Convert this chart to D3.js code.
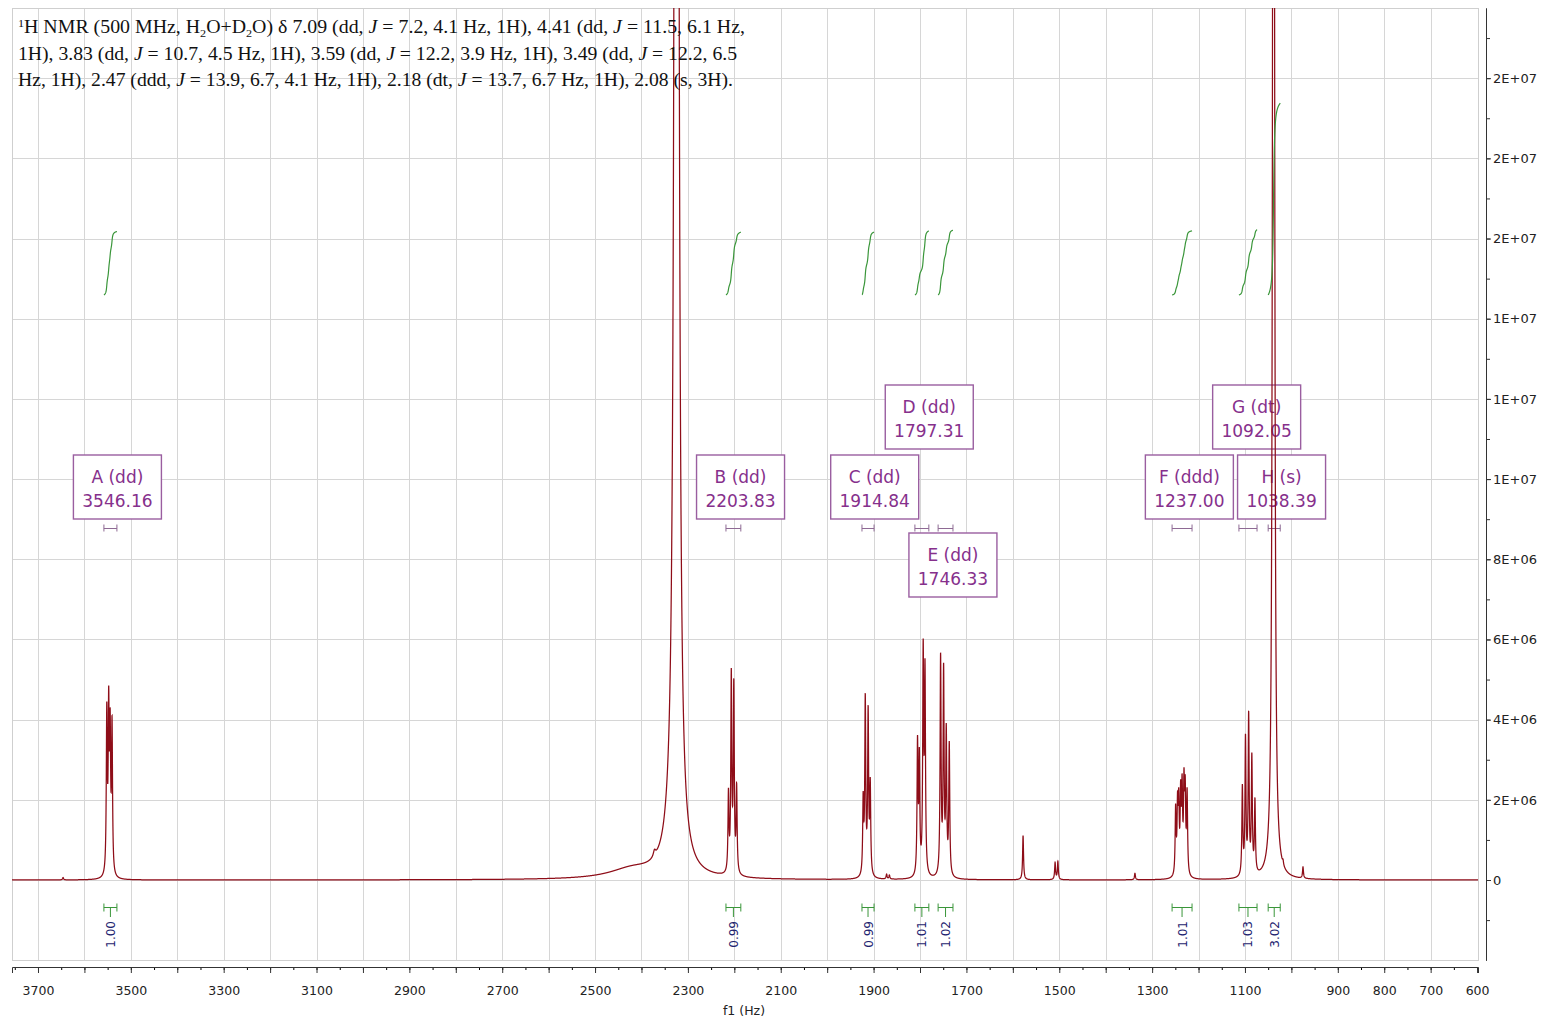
<!DOCTYPE html>
<html>
<head>
<meta charset="utf-8">
<script src="https://cdn.jsdelivr.net/npm/d3@7/dist/d3.min.js"></script>
<style>
  body { margin: 0; background: #fff; }
</style>
</head>
<body>
<div class="vis-holder"></div>
<script>
// ---------- values ----------

// multiplet annotations
var mLabels  = ["A", "B", "C", "D", "E", "F", "G", "H"];
var mTypes   = ["dd", "dd", "dd", "dd", "dd", "ddd", "dt", "s"];
var mCenters = [3546.16, 2203.83, 1914.84, 1797.31, 1746.33, 1237.00, 1092.05, 1038.39];

// integration ranges (Hz, left edge / right edge) and integral values
var rangeFrom = [3558, 2218, 1925, 1811, 1761, 1257, 1113, 1050];
var rangeTo   = [3530, 2186, 1899, 1781, 1729, 1214, 1074, 1024];
var integrals = [1.00, 0.99, 0.99, 1.01, 1.02, 1.01, 1.03, 3.02];

// resolved lines of every multiplet (Hz) and the heights they reach
var linesA   = [3551.81, 3547.71, 3544.61, 3540.51];
var heightsA = [4.45e6, 4.85e6, 4.3e6, 4.1e6];
var linesB   = [2212.63, 2206.53, 2201.13, 2195.03];
var heightsB = [2.2e6, 5.2e6, 4.95e6, 2.35e6];
var linesC   = [1922.44, 1917.94, 1911.74, 1907.24];
var heightsC = [2.2e6, 4.65e6, 4.35e6, 2.55e6];
var linesD   = [1805.36, 1801.46, 1793.16, 1789.26];
var heightsD = [3.6e6, 3.3e6, 6.0e6, 5.5e6];
var linesE   = [1755.68, 1749.18, 1743.48, 1736.98];
var heightsE = [5.65e6, 5.4e6, 3.9e6, 3.45e6];
var linesF   = [1249.35, 1245.25, 1242.65, 1238.55, 1235.45, 1231.35, 1228.75, 1224.65];
var heightsF = [1.9e6, 2.2e6, 2.3e6, 2.5e6, 2.65e6, 2.8e6, 2.6e6, 2.3e6];
var linesG   = [1105.6, 1098.9, 1092.05, 1085.2, 1078.5];
var heightsG = [2.35e6, 3.6e6, 4.15e6, 3.1e6, 1.95e6];
var linesH   = [1038.39];
var heightsH = [60e6];

// small impurity peaks
var smallPos     = [3646, 1872, 1866, 1578, 1509, 1503, 1337, 1018, 975];
var smallHeights = [0.06e6, 0.12e6, 0.1e6, 1.1e6, 0.42e6, 0.45e6, 0.16e6, 0.1e6, 0.28e6];

// water signal (main line, broad foot, low-field hump, small shoulder)
var waterPos     = [2324.5, 2335, 2420, 2372];
var waterHeights = [102e6, 0.4e6, 0.25e6, 0.15e6];

// axis ticks
var xTickLabels = [3700, 3500, 3300, 3100, 2900, 2700, 2500, 2300, 2100, 1900, 1700, 1500, 1300, 1100, 900, 800, 700, 600];
var yTickLabels = [0, 2e6, 4e6, 6e6, 8e6, 10e6, 12e6, 14e6, 16e6, 18e6, 20e6];

// caption above the spectrum
var titleLines = [
  [["1", "sup"], ["H NMR (500 MHz, H", ""], ["2", "sub"], ["O+D", ""], ["2", "sub"], ["O) \u03b4 7.09 (dd, ", ""], ["J", "i"],
   [" = 7.2, 4.1 Hz, 1H), 4.41 (dd, ", ""], ["J", "i"], [" = 11.5, 6.1 Hz,", ""]],
  [["1H), 3.83 (dd, ", ""], ["J", "i"], [" = 10.7, 4.5 Hz, 1H), 3.59 (dd, ", ""], ["J", "i"],
   [" = 12.2, 3.9 Hz, 1H), 3.49 (dd, ", ""], ["J", "i"], [" = 12.2, 6.5", ""]],
  [["Hz, 1H), 2.47 (ddd, ", ""], ["J", "i"], [" = 13.9, 6.7, 4.1 Hz, 1H), 2.18 (dt, ", ""], ["J", "i"],
   [" = 13.7, 6.7 Hz, 1H), 2.08 (s, 3H).", ""]]
];

// ---------- layout ----------
var width = 1550;
var height = 1021;
var plot = { left: 12, top: 8, right: 1478, bottom: 960 };

var svg = d3.select(".vis-holder")
  .append("svg")
  .attr("width", width)
  .attr("height", height)
  .style("font-family", "'DejaVu Sans', Verdana, sans-serif");

var xScale = d3.scaleLinear().domain([3756, 598]).range([plot.left, plot.right]);
var yScale = d3.scaleLinear().domain([-2e6, 21.75e6]).range([plot.bottom + 0.2, plot.top]);
// integral curves have their own vertical scale
var intScale = d3.scaleLinear().domain([0, 1]).range([295, 231.5]);

svg.append("defs").append("clipPath").attr("id", "plotclip")
  .append("rect")
  .attr("x", plot.left).attr("y", plot.top)
  .attr("width", plot.right - plot.left).attr("height", plot.bottom - plot.top);

// grid
var grid = svg.append("g").attr("stroke", "#d6d6d6").attr("stroke-width", 1);
grid.selectAll(".vg")
  .data(d3.range(3700, 650, -100))
  .enter().append("line")
  .attr("x1", function(d) { return Math.round(xScale(d)) + 0.5; })
  .attr("x2", function(d) { return Math.round(xScale(d)) + 0.5; })
  .attr("y1", plot.top).attr("y2", plot.bottom);
grid.selectAll(".hg")
  .data(yTickLabels)
  .enter().append("line")
  .attr("x1", plot.left).attr("x2", plot.right)
  .attr("y1", function(d) { return Math.round(yScale(d)) + 0.5; })
  .attr("y2", function(d) { return Math.round(yScale(d)) + 0.5; });
svg.append("rect")
  .attr("x", plot.left + 0.5).attr("y", plot.top + 0.5)
  .attr("width", plot.right - plot.left).attr("height", plot.bottom - plot.top)
  .attr("fill", "none").attr("stroke", "#cfcfcf");

// ---------- spectrum ----------
function lor(x, c, g) { var d = (x - c) / g; return 1 / (1 + d * d); }

// turn apparent heights into line amplitudes (lines of a multiplet overlap)
function resolve(pos, hts, g) {
  var amp = hts.slice();
  for (var it = 0; it < 20; it++) {
    amp = pos.map(function(p, i) {
      var s = 0;
      pos.forEach(function(q, j) { if (j !== i) s += amp[j] * lor(p, q, g); });
      return Math.max(hts[i] - s, hts[i] * 0.05);
    });
  }
  return pos.map(function(p, i) { return { c: p, a: amp[i], g: g }; });
}

var lw = 1.25;
var peaks = [].concat(
  resolve(linesA, heightsA, lw),
  resolve(linesB, heightsB, lw),
  resolve(linesC, heightsC, lw),
  resolve(linesD, heightsD, lw),
  resolve(linesE, heightsE, lw),
  resolve(linesF, heightsF, lw),
  resolve(linesG, heightsG, lw),
  resolve(linesH, heightsH, 1.7)
);
smallPos.forEach(function(p, i) { peaks.push({ c: p, a: smallHeights[i], g: 1.2 }); });
var waterWidths = [3, 15, 60, 3];
waterPos.forEach(function(p, i) { peaks.push({ c: p, a: waterHeights[i], g: waterWidths[i] }); });

var spectrum = [];
for (var f = 3756; f >= 598; f -= 0.1) {
  var v = 0;
  for (var k = 0; k < peaks.length; k++) v += peaks[k].a * lor(f, peaks[k].c, peaks[k].g);
  spectrum.push({ hz: f, v: v });
}

// label boxes, brackets under them
var boxW = 88, boxH = 64;
var rowTop = { "0": 455, "1": 385, "-1": 533 };
var placed = { "0": [], "1": [], "-1": [] };
var boxes = mLabels.map(function(l, i) {
  var cx = xScale(mCenters[i]) + 8;
  var row = [0, 1, -1].find(function(r) {
    return !placed[r].some(function(p) { return Math.abs(p - cx) < boxW; });
  });
  placed[row].push(cx);
  return { label: l, type: mTypes[i], center: mCenters[i], cx: cx, top: rowTop[row] };
});

var boxG = svg.append("g");
boxG.selectAll("rect")
  .data(boxes).enter().append("rect")
  .attr("x", function(d) { return d.cx - boxW / 2; })
  .attr("y", function(d) { return d.top; })
  .attr("width", boxW).attr("height", boxH)
  .attr("fill", "#fff").attr("stroke", "#9a5ea0").attr("stroke-width", 1.4);
boxG.selectAll(".l1")
  .data(boxes).enter().append("text")
  .attr("x", function(d) { return d.cx; })
  .attr("y", function(d) { return d.top + 28; })
  .attr("text-anchor", "middle").attr("font-size", 17).attr("fill", "#86308c")
  .text(function(d) { return d.label + " (" + d.type + ")"; });
boxG.selectAll(".l2")
  .data(boxes).enter().append("text")
  .attr("x", function(d) { return d.cx; })
  .attr("y", function(d) { return d.top + 52; })
  .attr("text-anchor", "middle").attr("font-size", 17).attr("fill", "#86308c")
  .text(function(d) { return d.center.toFixed(2); });

// multiplet range brackets
var mb = svg.append("g").attr("stroke", "#8e6a94").attr("stroke-width", 1).attr("fill", "none");
mLabels.forEach(function(l, i) {
  var x1 = xScale(rangeFrom[i]), x2 = xScale(rangeTo[i]);
  mb.append("path").attr("d", "M" + x1 + ",524.5V531.5M" + x1 + ",528.5H" + x2 + "M" + x2 + ",524.5V531.5");
});

// the spectrum line
var line = d3.line()
  .x(function(d) { return xScale(d.hz); })
  .y(function(d) { return yScale(d.v); });
svg.append("path")
  .attr("clip-path", "url(#plotclip)")
  .attr("d", line(spectrum))
  .attr("fill", "none")
  .attr("stroke", "#8e0d18")
  .attr("stroke-width", 1.25);

// integral curves
var intLine = d3.line()
  .x(function(d) { return xScale(d.hz); })
  .y(function(d) { return intScale(d.s); });
var ig = svg.append("g").attr("clip-path", "url(#plotclip)");
mLabels.forEach(function(l, i) {
  var seg = spectrum.filter(function(d) { return d.hz <= rangeFrom[i] && d.hz >= rangeTo[i]; });
  var total = d3.sum(seg, function(d) { return d.v; });
  var run = 0;
  var pts = seg.map(function(d) { run += d.v; return { hz: d.hz, s: run / total * integrals[i] }; });
  ig.append("path").attr("d", intLine(pts))
    .attr("fill", "none").attr("stroke", "#3a963a").attr("stroke-width", 1.2);
});

// integral brackets and values below the baseline
var ib = svg.append("g").attr("stroke", "#3a963a").attr("stroke-width", 1).attr("fill", "none");
mLabels.forEach(function(l, i) {
  var x1 = xScale(rangeFrom[i]), x2 = xScale(rangeTo[i]), xm = (x1 + x2) / 2;
  ib.append("path").attr("d",
    "M" + x1 + ",903.5V911.5M" + x1 + ",907.5H" + x2 + "M" + x2 + ",903.5V911.5M" + xm + ",907.5V917");
  svg.append("text")
    .attr("transform", "translate(" + (xm + 4.5) + ",921)rotate(-90)")
    .attr("text-anchor", "end")
    .attr("font-size", 12)
    .attr("fill", "#1e2470")
    .text(d3.format(".2f")(integrals[i]));
});

// ---------- axes ----------
var xAxisY = 967;
svg.append("g")
  .attr("transform", "translate(0," + xAxisY + ")")
  .call(d3.axisBottom(xScale).tickValues(d3.range(3750, 599, -50)).tickSize(3).tickSizeOuter(0).tickFormat(""))
  .call(function(g) { g.select(".domain").remove(); });
var xAxis = svg.append("g")
  .attr("transform", "translate(0," + xAxisY + ")")
  .call(d3.axisBottom(xScale).tickValues(d3.range(3700, 599, -100)).tickSize(6).tickSizeOuter(6)
        .tickFormat(function(d) { return xTickLabels.indexOf(d) >= 0 ? d : ""; }));
xAxis.selectAll("text").attr("font-size", 12.5).attr("font-family", "'DejaVu Sans', sans-serif")
  .attr("fill", "#222").attr("dy", "1.55em");
xAxis.selectAll("line, path").attr("stroke", "#333");

function fmtE(v) {
  if (v === 0) return "0";
  var e = Math.floor(Math.log10(v));
  var m = Math.round(v / Math.pow(10, e));
  if (m === 10) { m = 1; e += 1; }
  return m + "E+" + (e < 10 ? "0" + e : e);
}
var yAxisX = 1486;
svg.append("g")
  .attr("transform", "translate(" + yAxisX + ",0)")
  .call(d3.axisRight(yScale).tickValues(d3.range(-1e6, 21.5e6, 1e6)).tickSize(4).tickSizeOuter(0).tickFormat(""))
  .call(function(g) { g.selectAll("line, path").attr("stroke", "#333"); });
var yAxis = svg.append("g")
  .attr("transform", "translate(" + yAxisX + ",0)")
  .call(d3.axisRight(yScale).tickValues(yTickLabels).tickSize(5).tickSizeOuter(0).tickFormat(fmtE));
yAxis.selectAll("text").attr("font-size", 13).attr("font-family", "'DejaVu Sans', sans-serif")
  .attr("fill", "#222").attr("x", 7);
yAxis.selectAll("line, path").attr("stroke", "#333");

svg.append("text")
  .attr("x", 744).attr("y", 1015)
  .attr("text-anchor", "middle")
  .attr("font-size", 12.5)
  .attr("fill", "#222")
  .text("f1 (Hz)");

// ---------- caption ----------
var titleWidths = [727, 719, 715];
titleLines.forEach(function(segs, li) {
  var t = svg.append("text")
    .attr("x", 18).attr("y", 33 + li * 26.5)
    .attr("font-family", "'Liberation Serif', 'Times New Roman', serif")
    .attr("font-size", 18)
    .attr("fill", "#111")
    .attr("textLength", titleWidths[li])
    .attr("lengthAdjust", "spacingAndGlyphs");
  var shift = 0;
  segs.forEach(function(s) {
    var want = s[1] === "sup" ? -6 : (s[1] === "sub" ? 4 : 0);
    var ts = t.append("tspan").text(s[0]).attr("dy", want - shift);
    shift = want;
    if (s[1] === "sup" || s[1] === "sub") ts.attr("font-size", 11);
    if (s[1] === "i") ts.attr("font-style", "italic");
  });
});
</script>
</body>
</html>
